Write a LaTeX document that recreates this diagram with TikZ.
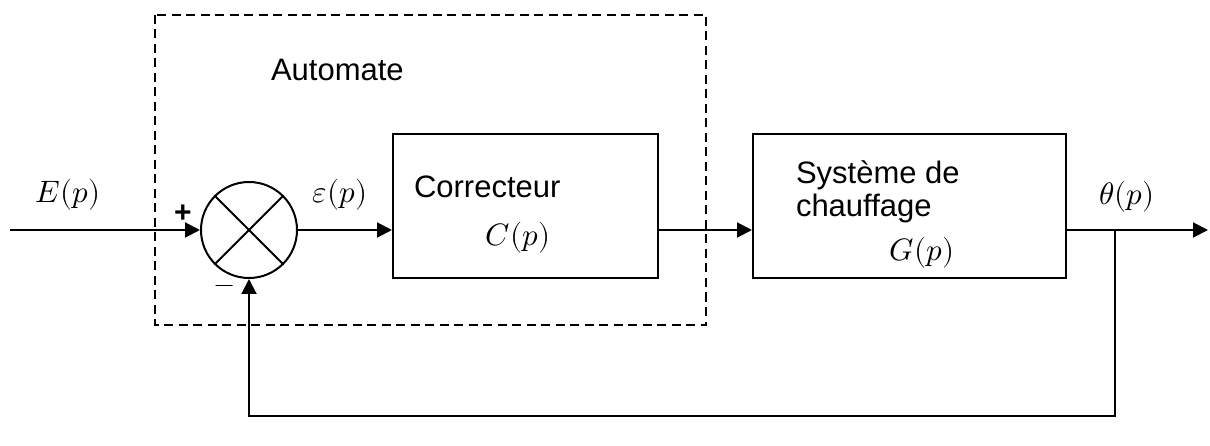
\documentclass[tikz,border=0pt]{standalone}
\usepackage{fontspec}
\usepackage{unicode-math}
\setmainfont{Liberation Sans}
\setmathfont{Latin Modern Math}
\usetikzlibrary{arrows.meta}
\begin{document}
\begin{tikzpicture}[x=1pt,y=-1pt,
  line width=2pt,
  txt/.style={font=\fontsize{31}{33}\selectfont, inner sep=0pt},
  mth/.style={font=\fontsize{31}{33}\selectfont, inner sep=0pt},
  blockbox/.style={draw, line width=2pt, inner sep=0pt},
  arr/.style={-{Triangle[length=15pt,width=15pt]}},
  dashbox/.style={draw, line width=1.8pt, dash pattern=on 9pt off 5.5pt}
]
\useasboundingbox (0,0) rectangle (1210,446);
% dashed automate frame
\draw[dashbox] (155,15) rectangle (706,325);
\node[txt, anchor=west] (auto) at (270,70) {Automate};
% summing junction
\node[draw, circle, minimum size=96pt, inner sep=0pt, line width=2pt] (sum) at (249,230) {};
\draw (sum.45) -- (sum.225);
\draw (sum.135) -- (sum.315);
% blocks
\node[blockbox, minimum width=265pt, minimum height=144pt] (C) at (525.5,206) {};
\node[blockbox, minimum width=313pt, minimum height=144pt] (G) at (909.5,206) {};
\node[txt, anchor=west] (corr) at (413,187) {Correcteur};
\node[mth] (Cp) at (518,238) {$C(p)$};
\node[txt, anchor=north west, align=left] (sys) at (795,160) {Système de\\chauffage};
\node[mth] (Gp) at (922,253) {$G(p)$};
% labels
\node[mth] (Ep) at (68,195) {$E(p)$};
\node[mth] (eps) at (340,195) {$\varepsilon(p)$};
\node[mth] (th) at (1127,197) {$\theta(p)$};
\node[font=\fontsize{30}{32}\selectfont\bfseries, inner sep=0pt] (plus) at (183,214) {+};
\node[font=\fontsize{26}{28}\selectfont, inner sep=0pt] (minus) at (225,289) {$-$};
% coordinates
\coordinate (in) at (10,230);
\coordinate (out) at (1208,230);
\coordinate (br) at (1115,230);
\coordinate (bd) at (1115,416);
% connectors
\draw[arr] (in) -- (sum.west);
\draw[arr] (sum.east) -- (sum.east -| C.west);
\draw[arr] (sum.east -| C.east) -- (sum.east -| G.west);
\draw[arr] (sum.east -| G.east) -- (out);
\draw[arr] (br) -- (bd) -- (bd -| sum.south) -- (sum.south);
\end{tikzpicture}
\end{document}
